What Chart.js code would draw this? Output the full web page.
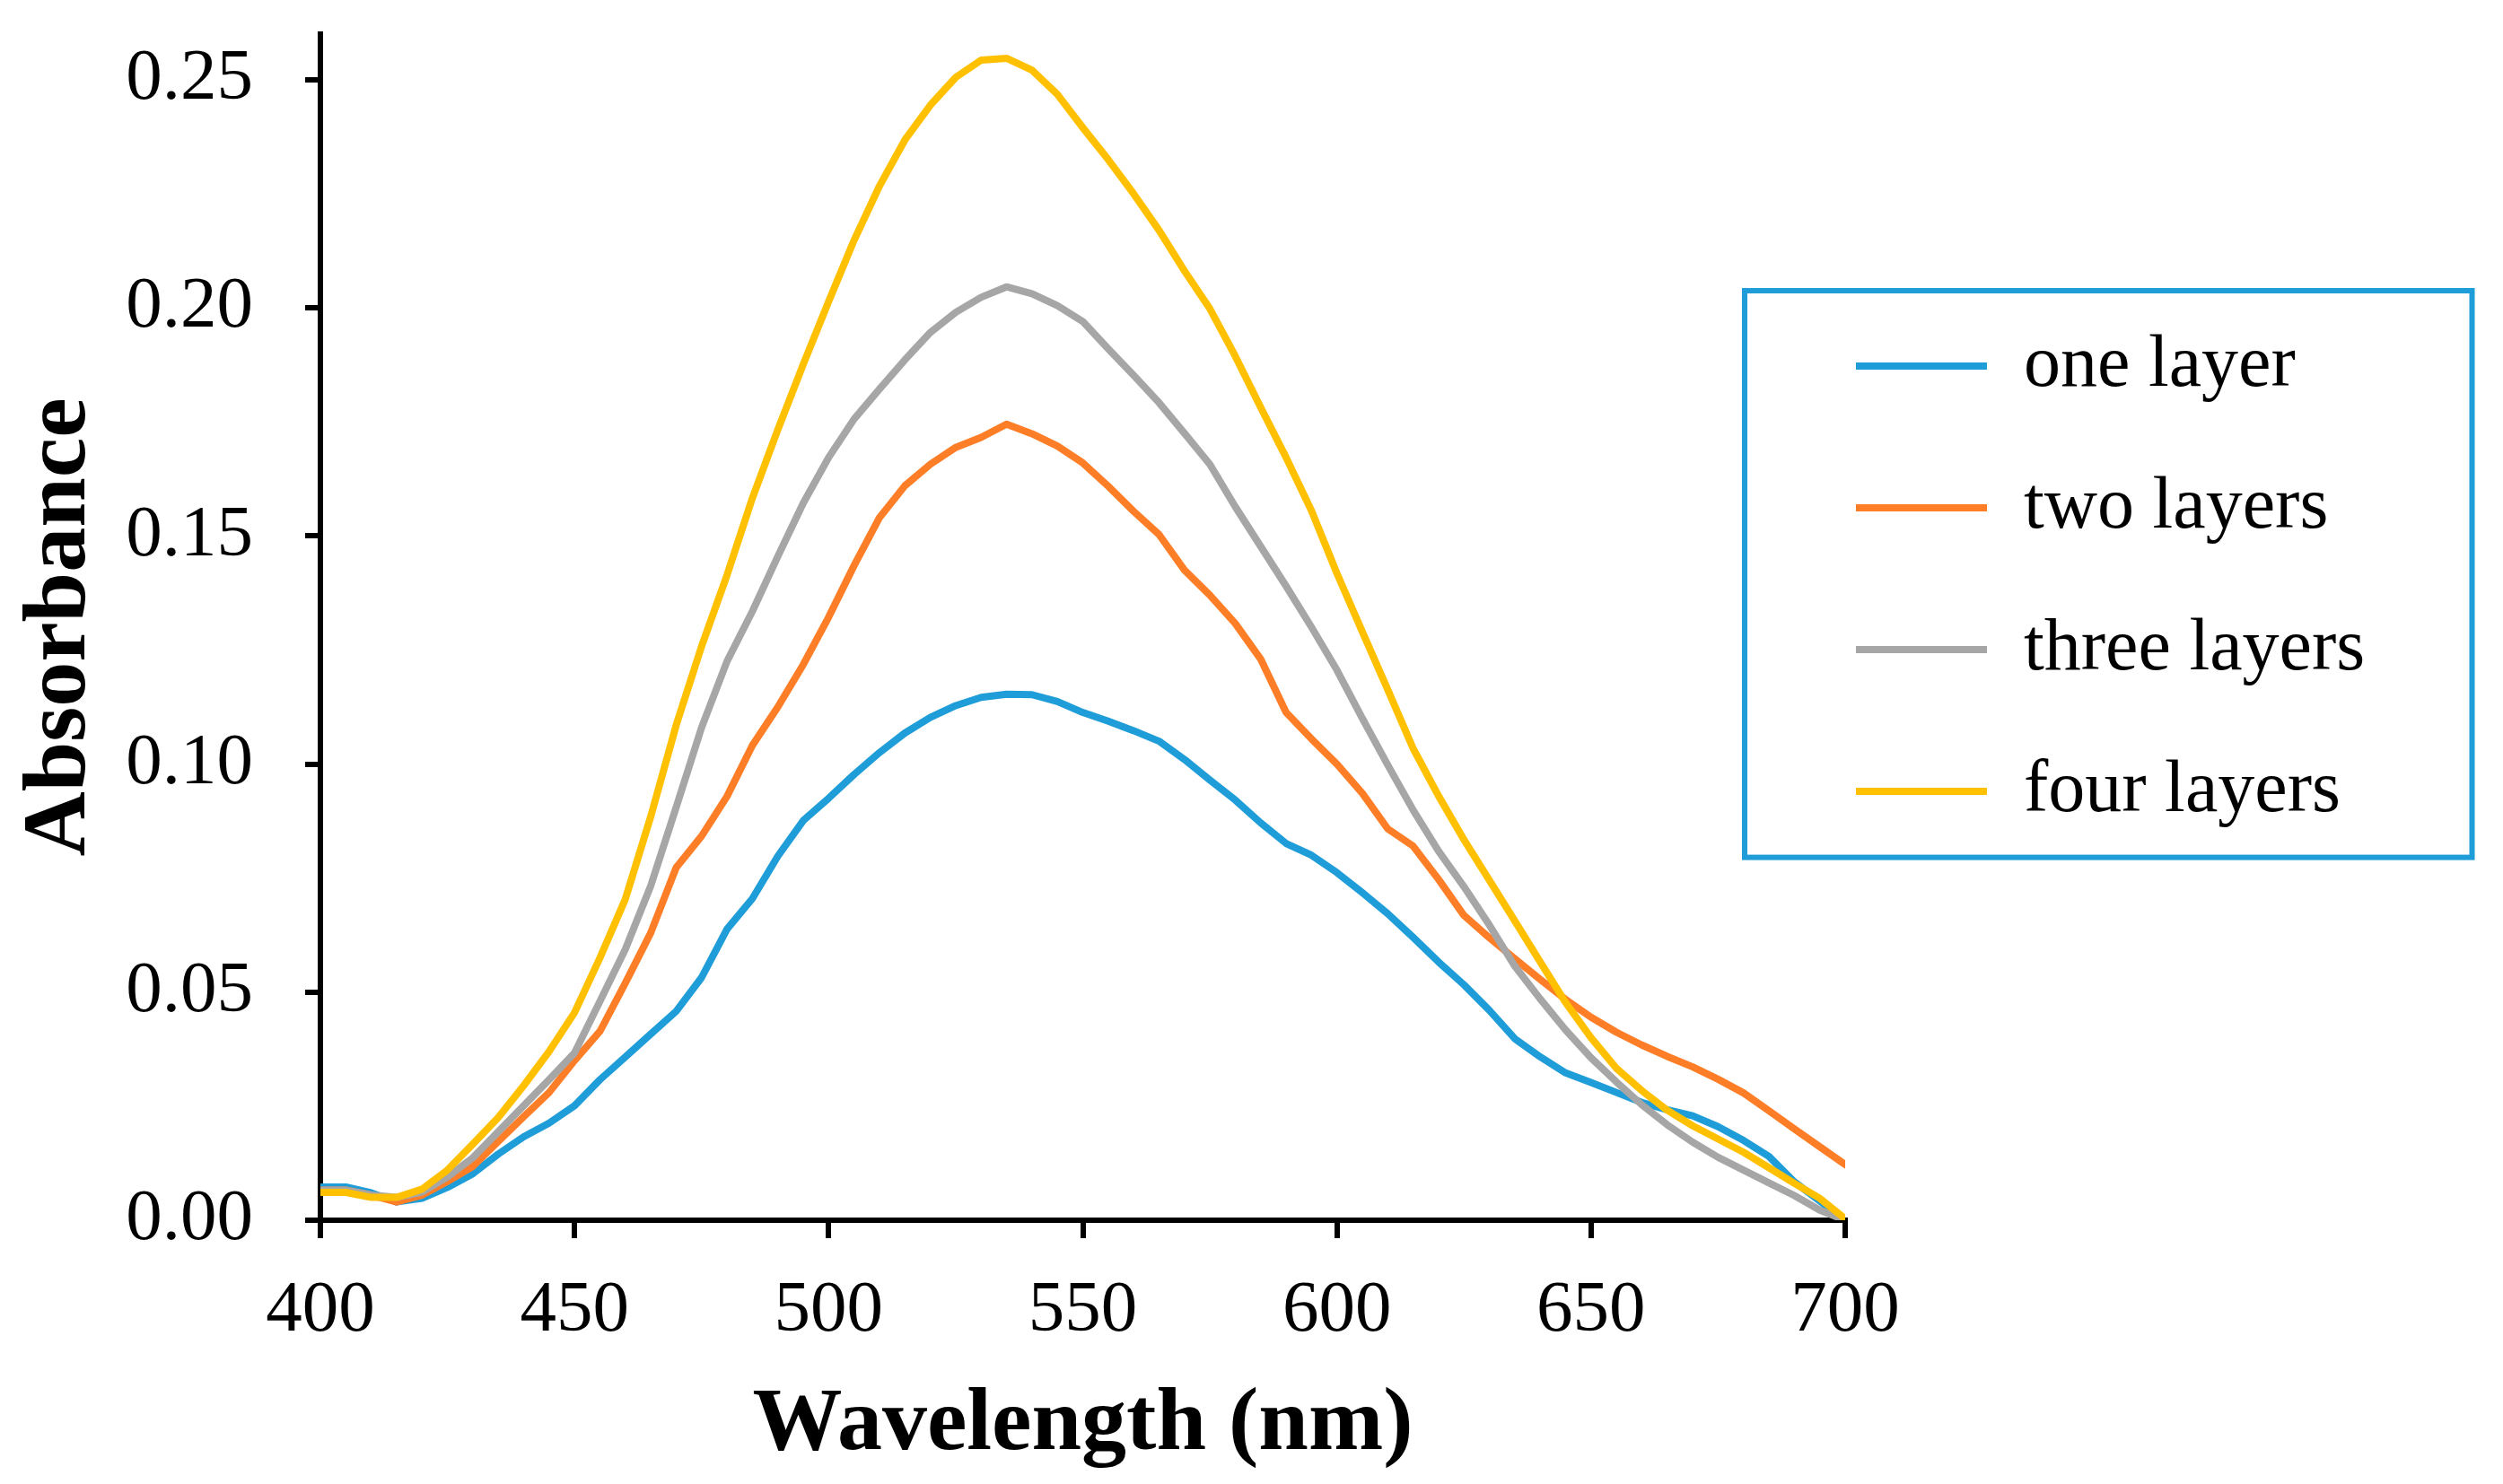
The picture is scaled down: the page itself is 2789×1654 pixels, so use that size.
<!DOCTYPE html>
<html>
<head>
<meta charset="utf-8">
<script src="https://cdn.jsdelivr.net/npm/chart.js@4.4.1/dist/chart.umd.min.js"></script>
<style>
  html, body { margin: 0; padding: 0; background: #ffffff; }
  #wrap { width: 2789px; height: 1654px; }
</style>
</head>
<body>
<div id="wrap"><canvas id="c" width="2789" height="1654"></canvas></div>
<script>
// ---- data ----
const wavelengths = [400,405,410,415,420,425,430,435,440,445,450,455,460,465,470,475,480,485,490,495,
  500,505,510,515,520,525,530,535,540,545,550,555,560,565,570,575,580,585,590,595,
  600,605,610,615,620,625,630,635,640,645,650,655,660,665,670,675,680,685,690,695,700];

const oneLayer = [0.0073,0.0073,0.0060,0.0040,0.0048,0.0072,0.0102,0.0145,0.0183,0.0213,
  0.0251,0.0308,0.0358,0.0408,0.0458,0.0532,0.0638,0.0705,0.0798,0.0876,
  0.0925,0.0977,0.1025,0.1068,0.1102,0.1128,0.1146,0.1153,0.1152,0.1137,
  0.1113,0.1094,0.1073,0.1050,0.1010,0.0965,0.0921,0.0871,0.0826,0.0800,
  0.0762,0.0718,0.0672,0.0620,0.0566,0.0516,0.0460,0.0398,0.0358,0.0323,
  0.0302,0.0280,0.0258,0.0242,0.0229,0.0205,0.0175,0.0140,0.0084,0.0042,0.0000];

const twoLayers = [0.0066,0.0066,0.0055,0.0040,0.0055,0.0085,0.0118,0.0173,0.0227,0.0280,
  0.0350,0.0414,0.0520,0.0630,0.0773,0.0842,0.0929,0.1041,0.1125,0.1218,
  0.1322,0.1435,0.1540,0.1610,0.1657,0.1694,0.1716,0.1745,0.1724,0.1697,
  0.1660,0.1609,0.1554,0.1503,0.1425,0.1370,0.1308,0.1230,0.1113,0.1055,
  0.1000,0.0936,0.0858,0.0820,0.0747,0.0668,0.0619,0.0573,0.0528,0.0484,
  0.0445,0.0412,0.0384,0.0359,0.0336,0.0309,0.0279,0.0240,0.0200,0.0161,0.0122];

const threeLayers = [0.0066,0.0066,0.0055,0.0050,0.0062,0.0095,0.0137,0.0194,0.0251,0.0308,
  0.0367,0.0480,0.0594,0.0733,0.0905,0.1080,0.1225,0.1335,0.1455,0.1572,
  0.1672,0.1756,0.1822,0.1886,0.1946,0.1990,0.2023,0.2046,0.2031,0.2005,
  0.1970,0.1910,0.1852,0.1792,0.1725,0.1657,0.1564,0.1477,0.1390,0.1300,
  0.1206,0.1100,0.0998,0.0899,0.0809,0.0731,0.0647,0.0557,0.0485,0.0417,
  0.0356,0.0303,0.0253,0.0209,0.0171,0.0138,0.0110,0.0082,0.0054,0.0022,0.0000];

const fourLayers = [0.0061,0.0061,0.0050,0.0050,0.0068,0.0110,0.0167,0.0225,0.0295,0.0370,
  0.0455,0.0575,0.0704,0.0885,0.1085,0.1258,0.1414,0.1583,0.1733,0.1876,
  0.2014,0.2148,0.2267,0.2368,0.2444,0.2505,0.2543,0.2547,0.2521,0.2468,
  0.2395,0.2325,0.2250,0.2170,0.2081,0.1998,0.1894,0.1782,0.1672,0.1555,
  0.1418,0.1290,0.1163,0.1034,0.0930,0.0834,0.0745,0.0656,0.0566,0.0477,
  0.0400,0.0333,0.0284,0.0241,0.0207,0.0178,0.0149,0.0115,0.0081,0.0048,0.0003];

const seriesNames = ['one layer', 'two layers', 'three layers', 'four layers'];
const seriesValues = [oneLayer, twoLayers, threeLayers, fourLayers];
const seriesColors = ['#1f9dd9', '#fe7e27', '#a6a6a6', '#ffc000'];

const xTicks = [400, 450, 500, 550, 600, 650, 700];
const yTicks = [0, 0.05, 0.10, 0.15, 0.20, 0.25];

// ---- chart ----
const SERIF = "'Liberation Serif', 'Times New Roman', serif";
Chart.defaults.font.family = SERIF;
Chart.defaults.color = '#000000';

const datasets = seriesNames.map((name, s) => ({
  label: name,
  data: wavelengths.map((w, i) => ({ x: w, y: seriesValues[s][i] })),
  borderColor: seriesColors[s],
  backgroundColor: seriesColors[s],
  borderWidth: 8,
  borderCapStyle: 'round',
  borderJoinStyle: 'round',
  pointRadius: 0,
  pointHoverRadius: 0,
  pointStyle: 'line',
  tension: 0,
  fill: false,
  order: seriesNames.length - s
}));

const legendFrame = {
  id: 'legendFrame',
  afterLayout(chart) {
    const lg = chart.legend;
    if (!lg) return;
    lg.left = 1992; lg.top = 291; lg.right = 2789; lg.bottom = 1250;
    lg.width = lg.right - lg.left; lg.height = lg.bottom - lg.top;
  },
  afterDraw(chart) {
    const lg = chart.legend;
    if (!lg) return;
    const ctx = chart.ctx;
    ctx.save();
    ctx.strokeStyle = '#1f9dd9';
    ctx.lineWidth = 6;
    ctx.strokeRect(lg.left - 48, lg.top + 33, 810.5, 631.6);
    ctx.restore();
  }
};

new Chart(document.getElementById('c'), {
  type: 'line',
  data: { datasets },
  plugins: [legendFrame],
  options: {
    responsive: false,
    devicePixelRatio: 1,
    animation: false,
    layout: { padding: { left: 0, top: 38, right: 733, bottom: 0 } },
    plugins: {
      tooltip: { enabled: false },
      legend: {
        display: true,
        position: 'chartArea',
        align: 'start',
        labels: {
          font: { family: SERIF, size: 82 },
          color: '#000000',
          usePointStyle: true,
          pointStyle: 'line',
          pointStyleWidth: 146,
          padding: 76,
          sort: (a, b) => a.datasetIndex - b.datasetIndex
        }
      }
    },
    scales: {
      x: {
        type: 'linear',
        min: 400,
        max: 700,
        afterBuildTicks: (scale) => { scale.ticks = xTicks.map(v => ({ value: v })); },
        afterFit: (scale) => { scale.height = 294; },
        ticks: {
          font: { family: SERIF, size: 81, lineHeight: 0.8 },
          color: '#000000',
          padding: 49,
          maxRotation: 0,
          autoSkip: false
        },
        grid: { display: true, drawOnChartArea: false, drawTicks: true, tickLength: 20, color: '#000000', lineWidth: 6 },
        border: { display: true, color: '#000000', width: 6 },
        title: {
          display: true,
          text: 'Wavelength (nm)',
          color: '#000000',
          font: { family: SERIF, size: 100, weight: 'bold', lineHeight: 1 },
          padding: { top: 5, bottom: 15 }
        }
      },
      y: {
        type: 'linear',
        min: 0,
        max: 0.26,
        afterBuildTicks: (scale) => { scale.ticks = yTicks.map(v => ({ value: v })); },
        afterFit: (scale) => { scale.width = 357; scale.paddingTop = 0; scale.paddingBottom = 0; },
        ticks: {
          font: { family: SERIF, size: 81, lineHeight: 0.8 },
          color: '#000000',
          padding: 58,
          callback: (v) => Number(v).toFixed(2)
        },
        grid: { display: true, drawOnChartArea: false, drawTicks: true, tickLength: 17, color: '#000000', lineWidth: 6 },
        border: { display: true, color: '#000000', width: 6 },
        title: {
          display: true,
          text: 'Absorbance',
          color: '#000000',
          font: { family: SERIF, size: 100, weight: 'bold', lineHeight: 1 },
          padding: { top: 18, bottom: 0 }
        }
      }
    }
  }
});
</script>
</body>
</html>
